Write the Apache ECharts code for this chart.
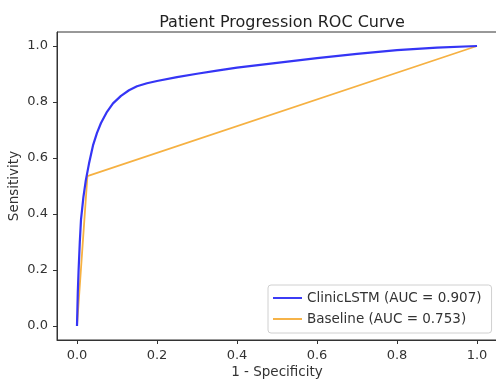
<!DOCTYPE html>
<html>
<head>
<meta charset="utf-8">
<script src="https://cdn.jsdelivr.net/npm/echarts@6/dist/echarts.min.js"></script>
<style>
  html, body { margin: 0; padding: 0; background: #fff; }
  #chart { width: 496px; height: 381px; }
</style>
</head>
<body>
<div id="chart"></div>
<script>
// ROC points
const lstmFpr = [0, 0.002, 0.004, 0.007, 0.01, 0.016, 0.022, 0.03, 0.04, 0.05, 0.06, 0.075, 0.09, 0.11, 0.13, 0.15, 0.175, 0.2, 0.25, 0.3, 0.35, 0.4, 0.5, 0.6, 0.7, 0.8, 0.9, 1.0]
const lstmTpr = [0, 0.12, 0.2, 0.3, 0.38, 0.46, 0.52, 0.58, 0.645, 0.69, 0.725, 0.765, 0.795, 0.822, 0.842, 0.856, 0.867, 0.875, 0.889, 0.901, 0.912, 0.923, 0.94, 0.957, 0.972, 0.985, 0.994, 1.0]
const baseFpr = [0, 0.026, 1.0]
const baseTpr = [0, 0.535, 1.0]
const tickValues = [0, 0.2, 0.4, 0.6, 0.8, 1.0]
const seriesNames = ["ClinicLSTM (AUC = 0.907)", "Baseline (AUC = 0.753)"]

const chart = echarts.init(document.getElementById("chart"), null, { renderer: "canvas" })
const font = "DejaVu Sans"
const pair = (xs, ys) => xs.map((x, i) => [x, ys[i]])

const axisCommon = {
  type: "value",
  min: -0.05,
  max: 1.05,
  axisLine: { show: true, onZero: false, lineStyle: { color: "#333", width: 1 } },
  axisTick: { show: true, inside: false, length: 4, customValues: tickValues, lineStyle: { color: "#333" } },
  axisLabel: {
    color: "#333", fontFamily: font, fontSize: 13, margin: 9,
    customValues: tickValues,
    formatter: (v) => v.toFixed(1)
  },
  splitLine: { show: false },
  nameLocation: "middle",
  nameMoveOverlap: false,
  nameTextStyle: { color: "#333", fontFamily: font, fontSize: 13.5 }
}

chart.setOption({
  animation: false,
  backgroundColor: "#fff",
  title: {
    text: "Patient Progression ROC Curve",
    left: 277, top: 10, textAlign: "center",
    textStyle: { color: "#222", fontFamily: font, fontSize: 16, fontWeight: "normal" }
  },
  grid: {
    left: 57, top: 32, right: -1, bottom: 41,
    outerBoundsMode: "none",
    containLabel: false,
    show: true, borderColor: "#333", borderWidth: 1
  },
  legend: {
    orient: "vertical",
    left: 268, top: 285,
    padding: [6, 10, 7, 5],
    itemGap: 7,
    itemWidth: 29, itemHeight: 16,
    backgroundColor: "#fff",
    borderColor: "#d0d0d0", borderWidth: 1, borderRadius: 3,
    textStyle: { color: "#333", fontFamily: font, fontSize: 13.5 },
    data: seriesNames.map((n) => ({ name: n, icon: "path://M0,7 L30,7 L30,9 L0,9 Z" }))
  },
  xAxis: { ...axisCommon, name: "1 - Specificity", nameGap: 25 },
  yAxis: { ...axisCommon, name: "Sensitivity", nameGap: 36 },
  series: [
    {
      name: seriesNames[0], type: "line", showSymbol: false, smooth: false,
      color: "#3535f5",
      lineStyle: { width: 2.2, color: "#3535f5" },
      data: pair(lstmFpr, lstmTpr),
      z: 3
    },
    {
      name: seriesNames[1], type: "line", showSymbol: false,
      color: "#f6b142",
      lineStyle: { width: 1.8, color: "#f6b142" },
      data: pair(baseFpr, baseTpr),
      z: 2
    }
  ]
})
</script>
</body>
</html>
